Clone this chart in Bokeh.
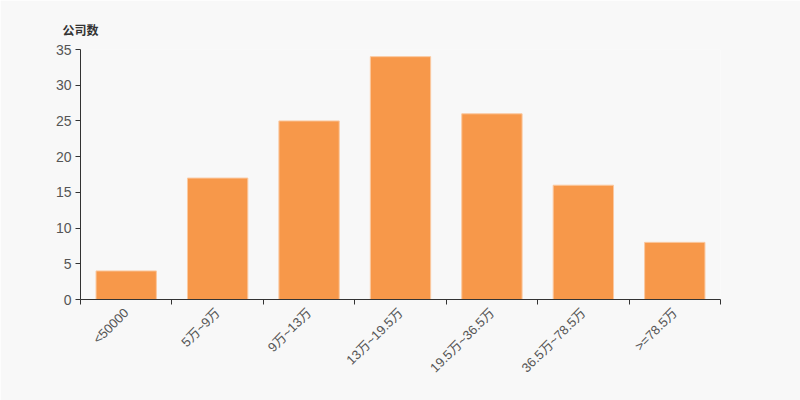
from bokeh.plotting import figure
from bokeh.models import ColumnDataSource, FixedTicker, Range1d
from bokeh.embed import file_html
from bokeh.resources import INLINE

categories = ["<50000", "5万~9万", "9万~13万", "13万~19.5万", "19.5万~36.5万", "36.5万~78.5万", ">=78.5万"]
counts = [4, 17, 25, 34, 26, 16, 8]
y_ticks = [0, 5, 10, 15, 20, 25, 30, 35]
y_title = "公司数"

xs = [i + 0.5 for i in range(len(categories))]
src = ColumnDataSource(dict(x=xs, top=counts, name=categories))

FONT = "Liberation Sans, Noto Sans CJK SC"
BG = "#f8f8f8"

p = figure(width=800, height=400, output_backend="svg", toolbar_location=None,
           x_range=Range1d(0, len(categories)), y_range=Range1d(0, 35),
           min_border_left=80, min_border_right=80, min_border_top=49, min_border_bottom=101,
           title=y_title)
p.title.align = "left"
p.title.offset = -18
p.title.standoff = 24
p.title.text_font = FONT
p.title.text_font_size = "12px"
p.title.text_font_style = "bold"
p.title.text_color = "#333333"

p.background_fill_color = BG
p.border_fill_color = BG
p.outline_line_color = None
p.grid.visible = False

p.vbar(x="x", top="top", width=0.66, source=src, fill_color="#f7984a",
       line_color="#fbc9a0", line_width=1)

# x axis
p.xaxis.ticker = FixedTicker(ticks=xs, minor_ticks=list(range(len(categories) + 1)))
p.xaxis.major_label_overrides = {x: c for x, c in zip(xs, categories)}
p.xaxis.major_tick_out = 0
p.xaxis.major_tick_in = 0
p.xaxis.minor_tick_out = 5
p.xaxis.minor_tick_in = 0
p.xaxis.minor_tick_line_color = "#333333"
p.xaxis.major_label_orientation = 0.785398
p.xaxis.major_label_standoff = 6
p.xaxis.major_label_text_font_size = "13px"

# y axis
p.yaxis.ticker = FixedTicker(ticks=y_ticks)
p.yaxis.minor_tick_line_color = None
p.yaxis.major_tick_out = 5
p.yaxis.major_tick_in = 0
p.yaxis.major_label_standoff = 4
p.yaxis.major_label_text_font_size = "14px"

for ax in (p.xaxis, p.yaxis):
    ax.axis_line_color = "#333333"
    ax.major_tick_line_color = "#333333"
    ax.major_label_text_color = "#555555"
    ax.major_label_text_font = FONT

html = file_html(p, INLINE)
html = html.replace("<body>", '<body style="background:#f8f8f8">', 1)
open("out.html", "w").write(html)
